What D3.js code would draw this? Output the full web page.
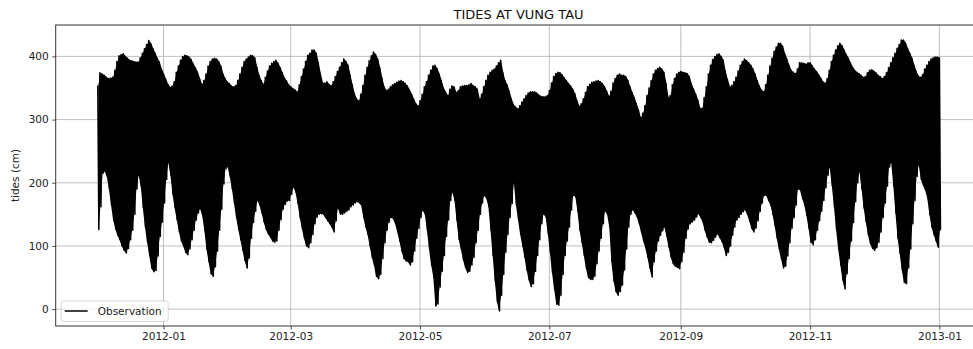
<!DOCTYPE html>
<html>
<head>
<meta charset="utf-8">
<script src="https://cdn.jsdelivr.net/npm/d3@7"></script>
<style>
  body { margin: 0; background: #fff; }
  svg { display: block; font-family: "DejaVu Sans", sans-serif; }
</style>
</head>
<body>
<div id="chart"></div>
<script>
const startDate = Date.UTC(2011, 11, 1);
const highs = [
  354, 374, 372, 370, 367, 365, 366, 367, 378, 392,
  401, 403, 404, 400, 397, 394, 393, 392, 391, 391,
  398, 405, 412, 419, 425, 420, 412, 405, 397, 391,
  380, 372, 364, 356, 351, 353, 360, 375, 385, 394,
  400, 402, 401, 399, 395, 388, 382, 375, 365, 356,
  362, 372, 385, 392, 396, 397, 396, 392, 385, 372,
  365, 360, 357, 353, 352, 354, 362, 372, 383, 392,
  396, 399, 402, 401, 398, 383, 370, 362, 356, 367,
  377, 385, 389, 392, 394, 389, 382, 374, 366, 361,
  355, 352, 349, 347, 344, 355, 368, 380, 392, 402,
  405, 410, 410, 405, 390, 372, 358, 358, 360, 356,
  354, 360, 368, 376, 383, 390, 396, 392, 386, 370,
  355, 341, 333, 330, 340, 354, 370, 383, 393, 401,
  407, 403, 396, 382, 366, 352, 346, 348, 352, 355,
  357, 359, 361, 362, 360, 357, 353, 347, 340, 332,
  325, 322, 330, 340, 352, 360, 370, 378, 385, 386,
  381, 372, 362, 350, 344, 338, 348, 353, 352, 343,
  346, 352, 353, 354, 354, 355, 357, 354, 352, 348,
  332, 340, 352, 362, 370, 375, 378, 380, 385, 390,
  394, 375, 362, 355, 345, 333, 324, 320, 317, 322,
  328, 333, 338, 342, 344, 344, 344, 342, 339, 337,
  336, 336, 338, 346, 358, 368, 373, 375, 374, 371,
  366, 362, 357, 353, 348, 341, 330, 321, 325, 333,
  343, 352, 356, 359, 360, 361, 362, 360, 357, 352,
  345, 337, 345, 358, 365, 370, 372, 370, 370, 368,
  362, 352, 343, 335, 325, 315, 303, 310, 322, 338,
  350, 362, 372, 378, 381, 383, 380, 375, 357, 335,
  338, 355, 365, 372, 375, 376, 375, 374, 373, 368,
  356, 348, 340, 331, 318, 318, 335, 352, 372, 386,
  395, 400, 403, 404, 400, 394, 376, 363, 352, 354,
  360, 367, 377, 386, 392, 396, 393, 390, 386, 380,
  372, 362, 353, 347, 344, 355, 370, 385, 397, 408,
  415, 421, 421, 416, 404, 396, 386, 378, 375, 373,
  380, 390, 390, 389, 388, 390, 390, 385, 380, 376,
  371, 366, 360, 358, 365, 378, 392, 402, 410, 417,
  421, 417, 410, 403, 397, 390, 383, 378, 375, 373,
  370, 367, 368, 374, 378, 379, 377, 374, 370, 368,
  365, 368, 374, 382, 390, 398, 405, 413, 419, 426,
  426, 421, 412, 405, 397, 386, 376, 369, 367, 371,
  380, 386, 392, 396, 398, 399, 399, 398
];
const lows = [
  126, 162, 215, 218, 210, 190, 165, 141, 127, 117,
  110, 100, 93, 89, 96, 110, 125, 150, 190, 212,
  195, 160, 130, 106, 85, 65, 59, 61, 84, 115,
  138, 168, 205, 232, 212, 182, 160, 141, 123, 108,
  100, 90, 86, 95, 110, 125, 141, 152, 159, 148,
  125, 95, 75, 56, 52, 67, 92, 125, 158, 198,
  222, 225, 210, 190, 168, 145, 126, 110, 93, 77,
  65, 81, 112, 137, 155, 172, 165, 152, 138, 126,
  119, 114, 108, 106, 108, 125, 142, 158, 166, 171,
  172, 182, 193, 185, 167, 145, 128, 112, 100, 97,
  105, 118, 135, 146, 150, 151, 150, 145, 140, 135,
  130, 122, 140, 160, 150, 150, 152, 155, 157, 162,
  165, 168, 170, 168, 164, 145, 130, 118, 100, 82,
  70, 52, 48, 55, 80, 105, 125, 138, 145, 143,
  135, 122, 108, 92, 80, 76, 75, 70, 75, 92,
  112, 128, 145, 156, 150, 125, 95, 70, 51, 5,
  8, 35, 60, 85, 115, 141, 172, 185, 172, 140,
  110, 95, 78, 66, 58, 60, 70, 82, 105, 125,
  150, 168, 180, 175, 162, 125, 85, 45, 12, -3,
  22, 55, 90, 118, 145, 167, 200, 165, 141, 118,
  100, 82, 62, 46, 36, 40, 60, 85, 110, 135,
  150, 146, 120, 90, 58, 32, 8, 6, 22, 55,
  85, 108, 130, 157, 180, 178, 155, 125, 105, 85,
  65, 50, 47, 47, 52, 72, 92, 112, 135, 155,
  150, 130, 75, 45, 28, 22, 28, 38, 62, 95,
  130, 150, 157, 152, 146, 135, 122, 108, 97, 82,
  65, 51, 75, 92, 108, 117, 124, 130, 115, 98,
  82, 72, 68, 66, 64, 75, 90, 112, 127, 135,
  138, 141, 146, 151, 145, 138, 125, 114, 106, 105,
  109, 114, 119, 113, 107, 98, 85, 90, 100, 117,
  130, 141, 145, 150, 154, 157, 150, 140, 128, 122,
  128, 140, 155, 168, 180, 180, 172, 165, 150, 132,
  112, 95, 80, 65, 68, 84, 105, 128, 145, 165,
  190, 188, 175, 165, 148, 128, 106, 102, 110, 125,
  140, 155, 172, 192, 212, 224, 195, 162, 126, 95,
  70, 46, 32, 56, 80, 108, 137, 170, 200, 218,
  190, 160, 138, 118, 104, 96, 93, 97, 106, 122,
  145, 168, 195, 225, 232, 195, 152, 112, 88, 62,
  42, 40, 65, 95, 135, 172, 210, 228, 205, 196,
  188, 176, 150, 130, 118, 108, 98, 125
];
const yTicks = [0, 100, 200, 300, 400];
const titleText = 'TIDES AT VUNG TAU';
const yLabel = 'tides (cm)';
const seriesName = 'Observation';

const DAY = 86400000;
const W = 973, H = 349;
const margin = { top: 25, left: 55.7 };
const plotW = 925.8, plotH = 301;

// one high and one low per day -> zigzag like the hourly trace
const points = [];
highs.forEach((h, i) => {
  points.push({ t: new Date(startDate + i * DAY), v: h });
  points.push({ t: new Date(startDate + i * DAY + DAY / 2), v: lows[i] });
});
const days = highs.map((h, i) => ({ t: new Date(startDate + i * DAY + DAY / 4), hi: h, lo: lows[i] }));

const t0 = startDate, t1 = startDate + 397 * DAY;
const pad = (t1 - t0) * 0.05;
const x = d3.scaleUtc().domain([new Date(t0 - pad), new Date(t1 + pad)]).range([0, plotW]);
const y = d3.scaleLinear().domain([-26.7, 449.7]).range([plotH, 0]);

const svg = d3.select('#chart').append('svg')
  .attr('width', W)
  .attr('height', H);

const g = svg.append('g')
  .attr('transform', 'translate(' + margin.left + ',' + margin.top + ')');

// grid
const xTicks = x.ticks(d3.utcMonth.every(2));
g.append('g').selectAll('line').data(xTicks).enter().append('line')
  .attr('x1', d => x(d)).attr('x2', d => x(d))
  .attr('y1', 0).attr('y2', plotH)
  .attr('stroke', '#b0b0b0').attr('stroke-width', 0.8);
g.append('g').selectAll('line').data(yTicks).enter().append('line')
  .attr('x1', 0).attr('x2', plotW)
  .attr('y1', d => y(d)).attr('y2', d => y(d))
  .attr('stroke', '#b0b0b0').attr('stroke-width', 0.8);

// series: the dense band between daily extremes, then the trace itself
g.append('path')
  .datum(days)
  .attr('d', d3.area().x(d => x(d.t)).y0(d => y(d.lo)).y1(d => y(d.hi)))
  .attr('fill', '#000');

g.append('path')
  .datum(points)
  .attr('d', d3.line().x(d => x(d.t)).y(d => y(d.v)))
  .attr('fill', 'none')
  .attr('stroke', '#000')
  .attr('stroke-width', 1.5)
  .attr('stroke-linejoin', 'round');

// axes
const xAxis = g.append('g')
  .attr('transform', 'translate(0,' + plotH + ')')
  .call(d3.axisBottom(x).tickValues(xTicks).tickFormat(d3.utcFormat('%Y-%m')).tickSize(3.5).tickPadding(3.5));
const yAxis = g.append('g')
  .call(d3.axisLeft(y).tickValues(yTicks).tickSize(3.5).tickPadding(3.5));

[xAxis, yAxis].forEach(a => {
  a.select('.domain').remove();
  a.selectAll('line').attr('stroke', '#222').attr('stroke-width', 0.8);
  a.selectAll('text').attr('fill', '#222').style('font-size', '10.5px').style('font-family', '"DejaVu Sans", sans-serif');
});

// spines (right one falls outside the window)
g.append('rect')
  .attr('x', 0).attr('y', 0)
  .attr('width', plotW).attr('height', plotH)
  .attr('fill', 'none')
  .attr('stroke', '#333').attr('stroke-width', 1);

// title and label
svg.append('text')
  .attr('x', margin.left + plotW / 2).attr('y', 19)
  .attr('text-anchor', 'middle')
  .style('font-size', '13px')
  .attr('fill', '#111')
  .text(titleText);

svg.append('text')
  .attr('transform', 'translate(19,' + (margin.top + plotH / 2) + ') rotate(-90)')
  .attr('text-anchor', 'middle')
  .style('font-size', '10.5px')
  .attr('fill', '#222')
  .text(yLabel);

// legend
const lg = g.append('g').attr('transform', 'translate(5.5,' + (plotH - 25) + ')');
lg.append('rect')
  .attr('width', 107).attr('height', 20.5)
  .attr('rx', 2.5)
  .attr('fill', 'rgba(255,255,255,0.8)')
  .attr('stroke', '#cccccc').attr('stroke-width', 0.8);
lg.append('line')
  .attr('x1', 3.5).attr('x2', 26.5)
  .attr('y1', 10).attr('y2', 10)
  .attr('stroke', '#000').attr('stroke-width', 1.5);
lg.append('text')
  .attr('x', 36.5).attr('y', 13.8)
  .style('font-size', '10.5px')
  .attr('fill', '#222')
  .text(seriesName);
</script>
</body>
</html>
